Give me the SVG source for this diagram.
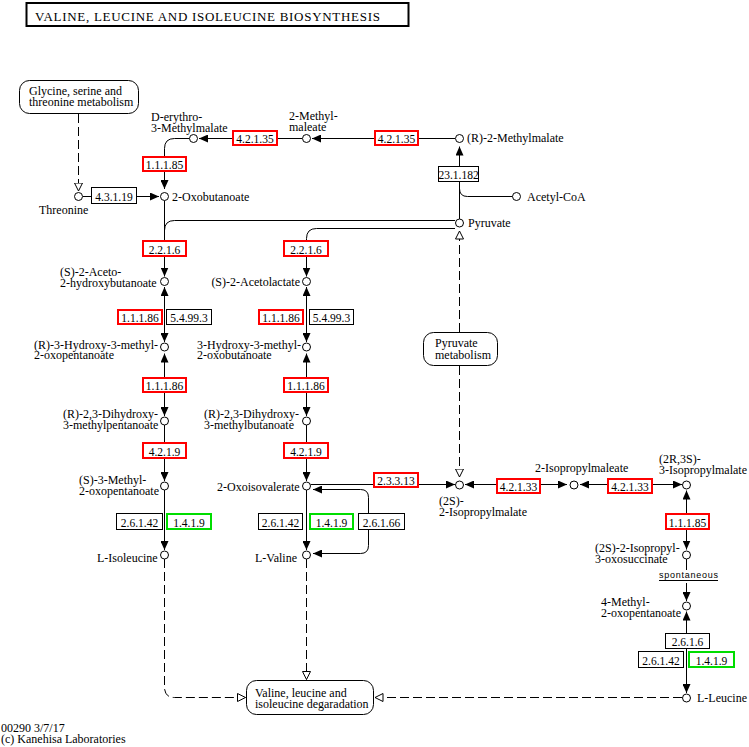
<svg xmlns="http://www.w3.org/2000/svg" width="749" height="747" viewBox="0 0 749 747">
<style>
text{font-family:"Liberation Serif","Times New Roman",serif;font-size:12px;fill:#000}
.z{text-anchor:middle;font-size:11.5px}
.en{text-anchor:end}
.bk{fill:#fff;stroke:#000;stroke-width:1}
.rd{fill:#fff;stroke:#f00;stroke-width:2}
.gn{fill:#fff;stroke:#00dd00;stroke-width:2}
.cp{fill:#fff;stroke:#000;stroke-width:1}
.mp{fill:#fff;stroke:#000;stroke-width:1}
.ln{fill:none;stroke:#000;stroke-width:1}
.ds{fill:none;stroke:#000;stroke-width:1;stroke-dasharray:9 4}
.ar{marker-end:url(#f)}
.ar2{marker-start:url(#f);marker-end:url(#f)}
.op{marker-end:url(#o)}
.sp{font-family:"Liberation Sans",Arial,sans-serif;font-size:9px}
</style>
<defs>
<marker id="f" viewBox="0 0 9 8" refX="9" refY="4" markerWidth="9" markerHeight="8" markerUnits="userSpaceOnUse" orient="auto-start-reverse"><path d="M0,0 L9,4 L0,8z" fill="#000" stroke="none"/></marker>
<marker id="o" viewBox="0 0 9 9" refX="8.5" refY="4.5" markerWidth="9" markerHeight="9" markerUnits="userSpaceOnUse" orient="auto"><path d="M0.5,0.5 L8.5,4.5 L0.5,8.5z" fill="#fff" stroke="#000" stroke-width="1" stroke-dasharray="none"/></marker>
</defs>
<rect width="749" height="747" fill="#fff"/>

<g id="title">
<rect x="26.5" y="3" width="382" height="23" fill="#fff" stroke="#000" stroke-width="2"/>
<text x="35" y="21" textLength="345" lengthAdjust="spacing" style="font-size:13px">VALINE, LEUCINE AND ISOLEUCINE BIOSYNTHESIS</text>
</g>

<g id="connectors">
<path class="ds op" d="M78.5,114 V191"/>
<path class="ln ar" d="M83,196.5 H159"/>
<path class="ln ar" d="M189.5,138.5 H174.5 Q164.5,138.5 164.5,148.5 V189"/>
<path class="ln ar" d="M455,138.5 H312"/>
<path class="ln ar" d="M302,138.5 H199"/>
<path class="ln ar" d="M459.5,219 V146.5"/>
<path class="ln" d="M512.5,196.5 H467.5 Q459.5,196.5 459.5,188.5"/>
<path class="ln" d="M455,220.5 H174.5 Q164.5,220.5 164.5,230.5"/>
<path class="ln ar" d="M164.5,200.5 V276.5"/>
<path class="ln ar" d="M455,228.5 H316.5 Q306.5,228.5 306.5,238.5 V276.5"/>
<path class="ln ar2" d="M164.5,287 V342"/>
<path class="ln ar2" d="M306.5,287 V342"/>
<path class="ln ar2" d="M164.5,353.5 V416"/>
<path class="ln ar2" d="M306.5,353.5 V416"/>
<path class="ln ar" d="M164.5,425 V481"/>
<path class="ln ar" d="M306.5,425 V481"/>
<path class="ln ar" d="M164.5,490 V550"/>
<path class="ln ar" d="M306.5,490 V550"/>
<path class="ds op" d="M164.5,559 V687.5 Q164.5,697.5 174.5,697.5 H245.5"/>
<path class="ds op" d="M306.5,559 V679.5"/>
<path class="ln ar" d="M310.5,484.5 H455"/>
<path class="ln ar2" d="M313,489.5 H360.5 Q368.5,489.5 368.5,497.5 V545.5 Q368.5,553.5 360.5,553.5 H313"/>
<path class="ds op" d="M459.5,332 V231"/>
<path class="ds op" d="M459.5,366 V477"/>
<path class="ln ar2" d="M465,484.5 H567"/>
<path class="ln ar2" d="M580,484.5 H682"/>
<path class="ln ar2" d="M686.5,490.5 V549.5"/>
<path class="ln" d="M686.5,559 V570"/>
<path class="ln ar" d="M686.5,583 V601"/>
<path class="ln ar2" d="M686.5,611.5 V693"/>
<path class="ds op" d="M682,697.5 H375"/>
<text class="sp" x="659" y="578" textLength="59" lengthAdjust="spacing">spontaneous</text>
<path class="ln" d="M659,580.5 H718"/>
</g>

<g id="enzymes">
<g id="e_4.3.1.19a"><rect class="bk" x="91.5" y="187.5" width="45" height="16"/><text class="z" x="114" y="200.5">4.3.1.19</text></g>
<g id="e_1.1.1.85a"><rect class="rd" x="143" y="157" width="43" height="14"/><text class="z" x="164.5" y="168.5">1.1.1.85</text></g>
<g id="e_4.2.1.35a"><rect class="rd" x="233" y="131" width="44" height="14"/><text class="z" x="255" y="142.5">4.2.1.35</text></g>
<g id="e_4.2.1.35b"><rect class="rd" x="375" y="131" width="43" height="14"/><text class="z" x="396.5" y="142.5">4.2.1.35</text></g>
<g id="e_23.1.182"><rect class="bk" x="438.5" y="166.5" width="40" height="15"/><text class="z" x="458.5" y="178.5">23.1.182</text></g>
<g id="e_2.2.1.6a"><rect class="rd" x="143" y="241" width="43" height="15"/><text class="z" x="164.5" y="253.5">2.2.1.6</text></g>
<g id="e_2.2.1.6b"><rect class="rd" x="284" y="241" width="44" height="15"/><text class="z" x="306" y="253.5">2.2.1.6</text></g>
<g id="e_1.1.1.86a"><rect class="rd" x="118" y="310" width="44" height="14"/><text class="z" x="140" y="321.5">1.1.1.86</text></g>
<g id="e_5.4.99.3a"><rect class="bk" x="166.5" y="309.5" width="45" height="15"/><text class="z" x="189" y="321.5">5.4.99.3</text></g>
<g id="e_1.1.1.86b"><rect class="rd" x="259" y="310" width="44" height="14"/><text class="z" x="281" y="321.5">1.1.1.86</text></g>
<g id="e_5.4.99.3b"><rect class="bk" x="309.5" y="309.5" width="44" height="15"/><text class="z" x="331.5" y="321.5">5.4.99.3</text></g>
<g id="e_1.1.1.86c"><rect class="rd" x="143" y="378" width="43" height="14"/><text class="z" x="164.5" y="389.5">1.1.1.86</text></g>
<g id="e_1.1.1.86d"><rect class="rd" x="284" y="378" width="44" height="14"/><text class="z" x="306" y="389.5">1.1.1.86</text></g>
<g id="e_4.2.1.9a"><rect class="rd" x="143" y="443" width="43" height="15"/><text class="z" x="164.5" y="455.5">4.2.1.9</text></g>
<g id="e_4.2.1.9b"><rect class="rd" x="284" y="443" width="44" height="15"/><text class="z" x="306" y="455.5">4.2.1.9</text></g>
<g id="e_2.6.1.42a"><rect class="bk" x="116.5" y="513.5" width="46" height="16"/><text class="z" x="139.5" y="526.5">2.6.1.42</text></g>
<g id="e_1.4.1.9a"><rect class="gn" x="167" y="514" width="44" height="15"/><text class="z" x="189" y="526.5">1.4.1.9</text></g>
<g id="e_2.6.1.42b"><rect class="bk" x="258.5" y="513.5" width="44" height="16"/><text class="z" x="280.5" y="526.5">2.6.1.42</text></g>
<g id="e_1.4.1.9b"><rect class="gn" x="310" y="514" width="43" height="15"/><text class="z" x="331.5" y="526.5">1.4.1.9</text></g>
<g id="e_2.6.1.66"><rect class="bk" x="358.5" y="513.5" width="46" height="16"/><text class="z" x="381.5" y="526.5">2.6.1.66</text></g>
<g id="e_2.3.3.13"><rect class="rd" x="374" y="473" width="44" height="14"/><text class="z" x="396" y="484.5">2.3.3.13</text></g>
<g id="e_4.2.1.33a"><rect class="rd" x="497" y="479" width="43" height="14"/><text class="z" x="518.5" y="490.5">4.2.1.33</text></g>
<g id="e_4.2.1.33b"><rect class="rd" x="608" y="479" width="44" height="14"/><text class="z" x="630" y="490.5">4.2.1.33</text></g>
<g id="e_1.1.1.85b"><rect class="rd" x="666" y="514" width="43" height="15"/><text class="z" x="687.5" y="526.5">1.1.1.85</text></g>
<g id="e_2.6.1.6"><rect class="bk" x="665.5" y="633.5" width="44" height="15"/><text class="z" x="687.5" y="645.5">2.6.1.6</text></g>
<g id="e_2.6.1.42c"><rect class="bk" x="638.5" y="651.5" width="45" height="16"/><text class="z" x="661" y="664.5">2.6.1.42</text></g>
<g id="e_1.4.1.9c"><rect class="gn" x="689" y="652" width="45" height="15"/><text class="z" x="711.5" y="664.5">1.4.1.9</text></g>
</g>

<g id="m_glycine"><rect class="mp" x="19.5" y="80.5" width="119" height="33" rx="10"/><text x="29" y="95">Glycine, serine and<tspan x="29" dy="11">threonine metabolism</tspan></text></g>
<g id="m_pyruvate"><rect class="mp" x="423.5" y="332.5" width="74" height="33" rx="10"/><text x="435" y="347">Pyruvate<tspan x="435" dy="11.5">metabolism</tspan></text></g>
<g id="m_degradation"><rect class="mp" x="246.5" y="680.5" width="127" height="34" rx="10"/><text x="255" y="696.5">Valine, leucine and<tspan x="255" dy="11">isoleucine degaradation</tspan></text></g>

<g id="n_threonine"><circle class="cp" cx="78.5" cy="196.5" r="4"/><text x="39" y="214">Threonine</text></g>
<g id="n_2oxobutanoate"><circle class="cp" cx="164.5" cy="196.5" r="4"/><text x="172" y="200.5">2-Oxobutanoate</text></g>
<g id="n_derythro"><circle class="cp" cx="193.5" cy="138.5" r="4"/><text x="151" y="120.5">D-erythro-<tspan x="151" dy="11">3-Methylmalate</tspan></text></g>
<g id="n_2methylmaleate"><circle class="cp" cx="306.5" cy="138.5" r="4"/><text x="289" y="120">2-Methyl-<tspan x="289" dy="10.5">maleate</tspan></text></g>
<g id="n_r2methylmalate"><circle class="cp" cx="459.5" cy="138.5" r="4"/><text x="467" y="142">(R)-2-Methylmalate</text></g>
<g id="n_acetylcoa"><circle class="cp" cx="516.5" cy="196.5" r="4"/><text x="527" y="201">Acetyl-CoA</text></g>
<g id="n_pyruvate"><circle class="cp" cx="459.5" cy="223" r="4"/><text x="468" y="227">Pyruvate</text></g>
<g id="n_s2aceto"><circle class="cp" cx="164.5" cy="281.5" r="4"/><text x="60" y="276">(S)-2-Aceto-<tspan x="60" dy="10.5">2-hydroxybutanoate</tspan></text></g>
<g id="n_s2acetolactate"><circle class="cp" cx="306.5" cy="281.5" r="4"/><text class="en" x="300" y="286">(S)-2-Acetolactate</text></g>
<g id="n_r3hydroxy"><circle class="cp" cx="164.5" cy="347" r="4"/><text x="34" y="348.5">(R)-3-Hydroxy-3-methyl-<tspan x="34" dy="10">2-oxopentanoate</tspan></text></g>
<g id="n_3hydroxy"><circle class="cp" cx="306.5" cy="347" r="4"/><text x="197" y="348.5">3-Hydroxy-3-methyl-<tspan x="197" dy="10">2-oxobutanoate</tspan></text></g>
<g id="n_r23dihydroxypent"><circle class="cp" cx="164.5" cy="421" r="4"/><text x="63" y="418">(R)-2,3-Dihydroxy-<tspan x="63" dy="10.5">3-methylpentanoate</tspan></text></g>
<g id="n_r23dihydroxybut"><circle class="cp" cx="306.5" cy="421" r="4"/><text x="204" y="418">(R)-2,3-Dihydroxy-<tspan x="204" dy="10.5">3-methylbutanoate</tspan></text></g>
<g id="n_s3methyl"><circle class="cp" cx="164.5" cy="486" r="4"/><text x="79" y="483.5">(S)-3-Methyl-<tspan x="79" dy="11">2-oxopentanoate</tspan></text></g>
<g id="n_2oxoisovalerate"><circle class="cp" cx="306.5" cy="486" r="4"/><text x="217" y="490.5">2-Oxoisovalerate</text></g>
<g id="n_lisoleucine"><circle class="cp" cx="164.5" cy="555" r="4"/><text x="97" y="561.5">L-Isoleucine</text></g>
<g id="n_lvaline"><circle class="cp" cx="306.5" cy="555" r="4"/><text x="255" y="561.5">L-Valine</text></g>
<g id="n_2s2isopropylmalate"><circle class="cp" cx="459.5" cy="485" r="4"/><text x="439" y="505">(2S)-<tspan x="439" dy="11">2-Isopropylmalate</tspan></text></g>
<g id="n_2isopropylmaleate"><circle class="cp" cx="574" cy="485" r="4"/><text x="535" y="472">2-Isopropylmaleate</text></g>
<g id="n_2r3s"><circle class="cp" cx="686.5" cy="485" r="4"/><text x="659" y="463">(2R,3S)-<tspan x="659" dy="11">3-Isopropylmalate</tspan></text></g>
<g id="n_oxosuccinate"><circle class="cp" cx="686.5" cy="555" r="4"/><text x="595" y="552">(2S)-2-Isopropyl-<tspan x="595" dy="10.5">3-oxosuccinate</tspan></text></g>
<g id="n_4methyl"><circle class="cp" cx="686.5" cy="606" r="4"/><text x="601" y="606">4-Methyl-<tspan x="601" dy="10.5">2-oxopentanoate</tspan></text></g>
<g id="n_lleucine"><circle class="cp" cx="686.5" cy="698" r="4"/><text x="697" y="702">L-Leucine</text></g>

<g id="footer"><text x="1" y="732">00290 3/7/17<tspan x="1" dy="11">(c) Kanehisa Laboratories</tspan></text></g>
</svg>
